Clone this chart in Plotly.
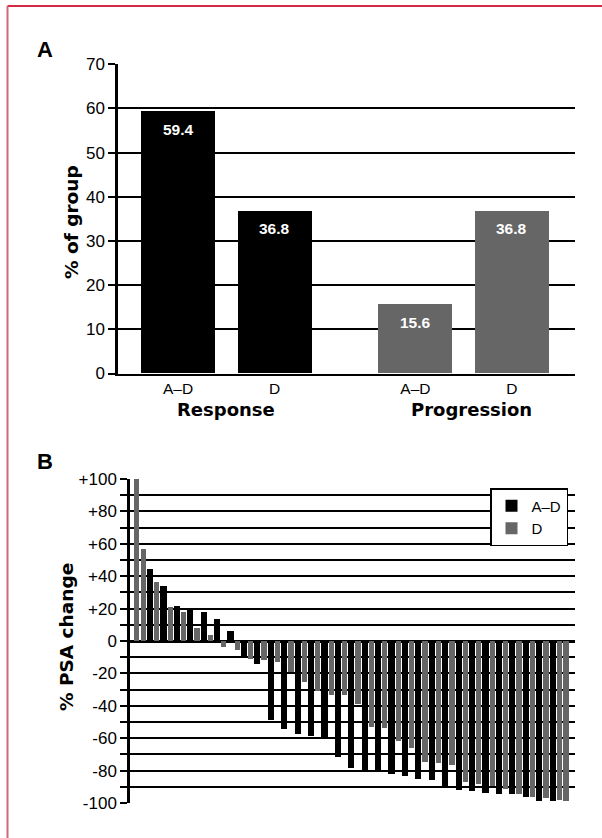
import plotly.graph_objects as go

# ---------------- Panel A data ----------------
a_groups = ["Response", "Response", "Progression", "Progression"]
a_arms = ["A–D", "D", "A–D", "D"]
a_values = [59.4, 36.8, 15.6, 36.8]
a_group_colors = {"Response": "#000000", "Progression": "#666666"}
a_yticks = [0, 10, 20, 30, 40, 50, 60, 70]

# ---------------- Panel B data ----------------
b_arms = ["D", "D", "A–D", "D", "A–D", "D", "A–D", "D", "A–D", "D",
          "A–D", "D", "A–D", "D", "A–D", "D", "A–D", "D", "A–D", "D",
          "A–D", "D", "A–D", "D", "A–D", "D", "A–D", "D", "A–D", "D",
          "A–D", "D", "A–D", "D", "A–D", "D", "A–D", "D", "A–D", "D",
          "A–D", "D", "A–D", "D", "A–D", "D", "A–D", "D", "A–D", "D",
          "A–D", "D", "A–D", "D", "A–D", "D", "A–D", "D", "A–D", "D",
          "A–D", "D", "A–D", "D", "D"]
b_change = [100, 57, 44.7, 36.6, 34, 20.7, 21.7, 18.2, 20.5, 8.3,
            18, 3.9, 13.6, -3.5, 6.2, -5.4, -10.3, -11, -14.4, -11.6,
            -48.7, -12.8, -54.5, -19, -57.6, -25.3, -58.8, -30.6, -60.2, -33.3,
            -71.8, -33.3, -78.7, -39.1, -80.7, -53.2, -80.7, -53.8, -82.4, -61.9,
            -83.6, -66.3, -84.9, -74.5, -85.7, -75.2, -89.4, -76.4, -91.7, -87,
            -92.5, -88.2, -94, -89.2, -94.5, -91.5, -94.5, -94.5, -96.2, -96,
            -99, -96.8, -99, -98, -99]
b_arm_colors = {"A–D": "#000000", "D": "#666666"}
b_arm_widths = {"A–D": 0.92, "D": 0.78}
b_label_vals = [-100, -80, -60, -40, -20, 0, 20, 40, 60, 80, 100]
b_label_text = ["-100", "-80", "-60", "-40", "-20", "0", "+20", "+40", "+60", "+80", "+100"]

W, H = 602, 838
def px(x):
    return x / W
def py(y):
    return 1 - y / H

SANS = "Liberation Sans, Arial, sans-serif"
TICK_FONT = dict(family=SANS, size=17, color="black")
TITLE_FONT = dict(family="DejaVu Sans, sans-serif", size=18.5, color="black", weight=700)

fig = go.Figure()

# Panel A bars
group_order = list(dict.fromkeys(a_groups))
a_x = []
seen = {}
for g in a_groups:
    gi = group_order.index(g)
    ci = seen.get(g, 0)
    seen[g] = ci + 1
    a_x.append(gi * 2.46 + ci)

fig.add_trace(go.Bar(
    x=a_x, y=a_values, width=0.767,
    marker=dict(color=[a_group_colors[g] for g in a_groups], line=dict(width=0)),
    showlegend=False, xaxis="x", yaxis="y", hoverinfo="skip",
))

# Panel B bars
for arm in ["A–D", "D"]:
    xs = [i for i, a in enumerate(b_arms) if a == arm]
    ys = [b_change[i] for i in xs]
    fig.add_trace(go.Bar(
        x=xs, y=ys, name=arm, width=b_arm_widths[arm],
        marker=dict(color=b_arm_colors[arm], line=dict(width=0)),
        xaxis="x2", yaxis="y2", hoverinfo="skip",
    ))

annotations = []
# value labels inside panel A bars
for x, v in zip(a_x, a_values):
    annotations.append(dict(
        x=x, y=v, xref="x", yref="y", text=f"{v:.1f}", showarrow=False,
        yshift=-18, xanchor="center", yanchor="middle",
        font=dict(family=SANS, size=15.5, color="white", weight=700),
    ))
# group labels
for gi, g in enumerate(group_order):
    xs = [x for x, gg in zip(a_x, a_groups) if gg == g]
    annotations.append(dict(
        x=sum(xs) / len(xs), y=py(409), xref="x", yref="paper", text=g,
        showarrow=False, xanchor="center", yanchor="middle", xshift=0 if gi == 0 else 8,
        font=dict(family="DejaVu Sans, sans-serif", size=18, color="black", weight=700),
    ))
# axis titles
annotations.append(dict(x=px(71), y=py(222), xref="paper", yref="paper", text="% of group",
                        textangle=-90, showarrow=False, xanchor="center", yanchor="middle",
                        font=TITLE_FONT))
annotations.append(dict(x=px(66.5), y=py(637.5), xref="paper", yref="paper", text="% PSA change",
                        textangle=-90, showarrow=False, xanchor="center", yanchor="middle",
                        font=TITLE_FONT))
# panel letters
for letter, xx, yy in [("A", 44.5, 49.5), ("B", 45, 461)]:
    annotations.append(dict(x=px(xx), y=py(yy), xref="paper", yref="paper", text=letter,
                            showarrow=False, xanchor="center", yanchor="middle",
                            font=dict(family=SANS, size=22, color="black", weight=700)))

b_all_ticks = list(range(-100, 101, 10))
b_all_text = [b_label_text[b_label_vals.index(v)] if v in b_label_vals else "" for v in b_all_ticks]

fig.update_layout(
    width=W, height=H, autosize=False,
    margin=dict(l=0, r=0, t=0, b=0, pad=0, autoexpand=False),
    paper_bgcolor="white", plot_bgcolor="white",
    barmode="overlay", bargap=0,
    xaxis=dict(domain=[px(118), px(575)], range=[-0.622, 4.114], anchor="y", automargin=False,
               tickmode="array", tickvals=a_x, ticktext=a_arms, ticks="",
               tickfont=dict(family=SANS, size=15.5, color="black"),
               showgrid=False, zeroline=False, showline=True, linecolor="black", linewidth=2),
    yaxis=dict(domain=[py(373.5), py(64.3)], range=[0, 70], anchor="x", automargin=False,
               tickmode="array", tickvals=a_yticks, ticks="outside", ticklen=7, tickwidth=2,
               tickcolor="black", tickfont=TICK_FONT,
               showgrid=True, gridcolor="black", gridwidth=1.5, zeroline=False,
               showline=True, linecolor="black", linewidth=2.5),
    xaxis2=dict(domain=[px(130), px(575)], range=[-0.984, 65.34], anchor="y2", automargin=False,
                showticklabels=False, ticks="", showgrid=False, zeroline=False, showline=False),
    yaxis2=dict(domain=[py(803), py(479)], range=[-100, 100], anchor="x2", automargin=False,
                tickmode="array", tickvals=b_all_ticks, ticktext=b_all_text,
                ticks="outside", ticklen=7, tickwidth=2, tickcolor="black", tickfont=TICK_FONT,
                showgrid=True, gridcolor="black", gridwidth=1.5,
                zeroline=True, zerolinecolor="black", zerolinewidth=2.5,
                showline=True, linecolor="black", linewidth=2.5),
    legend=dict(x=px(490), y=py(488), xanchor="left", yanchor="top",
                bgcolor="white", bordercolor="black", borderwidth=1.5,
                font=dict(family=SANS, size=15, color="black"),
                tracegroupgap=0, itemwidth=30),
    annotations=annotations,
    shapes=[
        dict(type="line", xref="paper", yref="paper", x0=px(7.5), x1=1.0, y0=py(6), y1=py(6),
             line=dict(color="#d42a44", width=2)),
        dict(type="line", xref="paper", yref="paper", x0=px(7.5), x1=px(7.5), y0=0, y1=py(6),
             line=dict(color="#cc6a7c", width=2)),
    ],
)

fig.write_html("out.html", config={"displayModeBar": False},
               post_script="document.body.style.margin='0px';")
